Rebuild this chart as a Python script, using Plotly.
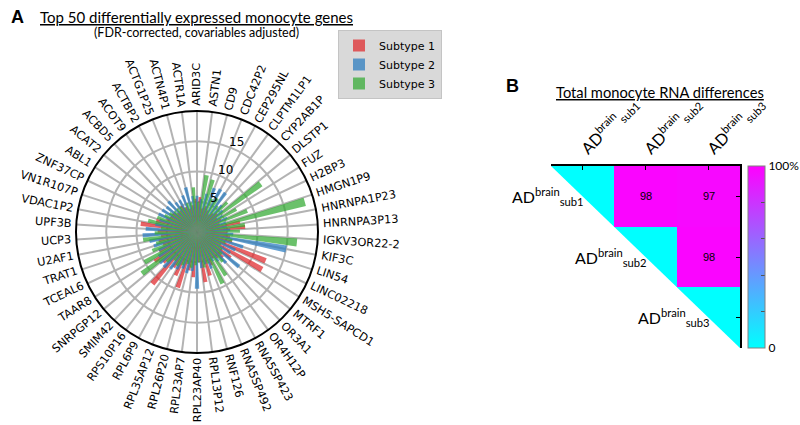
import math
import plotly.graph_objects as go

# ---------------- data ----------------
genes = ["ARID3C", "ASTN1", "CD9", "CDC42P2", "CEP295NL", "CLPTM1LP1", "CYP2AB1P", "DLSTP1",
         "FUZ", "H2BP3", "HMGN1P9", "HNRNPA1P23", "HNRNPA3P13", "IGKV3OR22-2", "KIF3C", "LIN54",
         "LINC02218", "MSH5-SAPCD1", "MTRF1", "OR3A1", "OR4H12P", "RNA5SP423", "RNA5SP492",
         "RNF126", "RPL13P12", "RPL23AP40", "RPL23AP7", "RPL26P20", "RPL35AP12", "RPL6P9",
         "RPS10P16", "SMIM42", "SNRPGP12", "TAAR8", "TCEAL6", "TRAT1", "U2AF1", "UCP3", "UPF3B",
         "VDAC1P2", "VN1R107P", "ZNF37CP", "ABL1", "ACAT2", "ACBD5", "ACOT9", "ACTBP2",
         "ACTG1P25", "ACTN4P1", "ACTR1A"]

subtype1 = [5.5, 5.8, 4.0, 4.5, 4.0, 3.5, 4.0, 4.5, 4.0, 4.5, 4.0, 7.3, 8.0, 5.0, 5.5, 6.0,
            12.3, 12.4, 7.0, 6.0, 5.5, 5.0, 6.0, 7.5, 8.4, 5.0, 7.5, 6.5, 9.7, 8.0, 7.0, 11.3,
            7.5, 8.5, 7.0, 6.0, 6.5, 6.0, 6.5, 9.4, 7.0, 5.5, 5.0, 5.0, 4.5, 4.5, 5.0, 4.5, 4.0, 4.5]
subtype2 = [6.0, 5.5, 6.5, 7.8, 8.1, 8.0, 6.0, 5.5, 5.0, 5.5, 5.0, 5.0, 5.5, 6.0, 15.0, 8.0,
            7.0, 6.5, 9.0, 7.0, 6.0, 5.5, 6.5, 5.5, 6.0, 9.4, 6.5, 7.0, 6.5, 7.0, 7.5, 8.0,
            8.0, 7.5, 7.0, 7.5, 8.0, 9.0, 8.5, 7.0, 6.5, 7.0, 6.8, 6.5, 6.9, 6.0, 6.0, 6.5, 7.6, 6.0]
subtype3 = [5.0, 9.5, 9.0, 6.0, 6.5, 5.5, 7.0, 13.2, 7.5, 9.0, 18.5, 8.0, 7.1, 16.6, 6.0, 5.0,
            4.5, 5.0, 5.5, 6.5, 8.6, 9.5, 5.5, 6.0, 5.0, 5.5, 6.0, 5.5, 6.0, 6.5, 6.0, 7.0,
            11.4, 10.0, 8.0, 7.0, 9.0, 7.0, 6.0, 8.3, 7.0, 6.0, 5.5, 5.0, 5.0, 5.0, 4.5, 5.0, 5.0, 7.4]
subtype_names = ["Subtype 1", "Subtype 2", "Subtype 3"]
subtype_colors = ["#e0282c", "#2a7cc0", "#33aa33"]

radial_ticks = [5, 10, 15]
radial_ticklabels = ["5", "10", "15"]
radial_max = 20

group_labels = ["sub1", "sub2", "sub3"]
rna_diff = [[0, 98, 97],
            [None, 0, 98],
            [None, None, 0]]
colorbar_ticks = [0, 20, 40, 60, 80, 100]
colorbar_ticktext = ["0", "", "", "", "", "100%"]

# ---------------- geometry ----------------
W, H = 800, 425
PCX, PCY, PR = 197, 232, 121          # polar centre / radius in px (from top-left)
polar_dom_x = [(PCX - PR) / W, (PCX + PR) / W]
polar_dom_y = [1 - (PCY + PR) / H, 1 - (PCY - PR) / H]

HX0, HX1, HY0, HY1 = 551, 740, 166, 348  # heatmap box in px
hm_dom_x = [HX0 / W, HX1 / W]
hm_dom_y = [1 - HY1 / H, 1 - HY0 / H]

n = len(genes)
step = 360.0 / n
thetas = [i * step for i in range(n)]
offsets = [-step / 3, 0, step / 3]
bar_w = step * 0.62

fig = go.Figure()

for vals, name, col, off in zip([subtype1, subtype2, subtype3], subtype_names, subtype_colors, offsets):
    fig.add_trace(go.Barpolar(
        r=vals, theta=[t + off for t in thetas], width=[bar_w] * n,
        marker=dict(color=col, line=dict(width=0)), opacity=0.72,
        name=name, hoverinfo="skip"))

# ---------------- gene labels (radially rotated) ----------------
DJ = {'A': .684, 'B': .686, 'C': .698, 'D': .770, 'E': .632, 'F': .575, 'G': .775, 'H': .752,
      'I': .295, 'J': .295, 'K': .656, 'L': .557, 'M': .863, 'N': .748, 'O': .787, 'P': .603,
      'Q': .787, 'R': .695, 'S': .635, 'T': .611, 'U': .732, 'V': .684, 'W': .989, 'X': .685,
      'Y': .611, 'Z': .685, '-': .361}
FS = 11.3

def text_w(s):
    return sum(DJ.get(c, .636) for c in s) * FS

def paper_text(x, y, text, size, family="Lato", xa="center", ya="middle"):
    return dict(x=x / W, y=1 - y / H, xref="paper", yref="paper", text=text, showarrow=False,
                xanchor=xa, yanchor=ya, font=dict(size=size, family=family, color="black"))

annotations = []
for g, t in zip(genes, thetas):
    a = 90 - t
    while a <= -180:
        a += 360
    while a > 180:
        a -= 360
    rl = PR + 5 + text_w(g) / 2
    xpx = PCX + rl * math.cos(math.radians(a))
    ypx = (H - PCY) + rl * math.sin(math.radians(a))
    if -90 < a <= 90:
        ta = -a
    elif a > 90:
        ta = 180 - a
    else:
        ta = -(a + 180)
    annotations.append(dict(x=xpx / W, y=ypx / H, xref="paper", yref="paper", text=g,
                            showarrow=False, textangle=ta, xanchor="center", yanchor="middle",
                            font=dict(size=FS, family="DejaVu Sans", color="black")))

# radial tick labels (matplotlib style: horizontal, at 22.5 deg from the top)
RL_ANGLE = 90 - 22.5
for rv, rt in zip(radial_ticks, radial_ticklabels):
    rp = rv / radial_max * PR
    xpx = PCX + rp * math.cos(math.radians(RL_ANGLE)) + 5
    ypx = (H - PCY) + rp * math.sin(math.radians(RL_ANGLE)) + 6
    annotations.append(dict(x=xpx / W, y=ypx / H, xref="paper", yref="paper", text=rt,
                            showarrow=False, xanchor="center", yanchor="middle",
                            font=dict(size=12, family="DejaVu Sans", color="black")))

# titles and panel letters
annotations += [
    paper_text(17, 17, "<b>A</b>", 18, "Liberation Sans"),
    paper_text(196, 17, "<u>Top 50 differentially expressed monocyte genes</u>", 15),
    paper_text(196, 33, "(FDR-corrected, covariables adjusted)", 12.5),
    paper_text(512, 86, "<b>B</b>", 18, "Liberation Sans"),
    paper_text(660, 92, "<u>Total monocyte RNA differences</u>", 14.7),
]

# ---------------- panel B heatmap ----------------
ng = len(group_labels)
ad_labels = ["AD<sup>brain</sup><sub>%s</sub>" % g for g in group_labels]
cell_text = [["" if (v is None or v == 0) else str(v) for v in row] for row in rna_diff]

fig.add_trace(go.Heatmap(
    z=rna_diff, x=list(range(ng)), y=list(range(ng)),
    colorscale=[[0, "rgb(0,255,255)"], [1, "rgb(255,0,255)"]], zmin=0, zmax=100,
    text=cell_text, texttemplate="%{text}", textfont=dict(size=11, color="black", family="Liberation Sans"),
    hoverinfo="skip", showscale=True, showlegend=False,
    colorbar=dict(x=748 / W, xanchor="left", y=(hm_dom_y[0] + hm_dom_y[1]) / 2, yanchor="middle",
                  len=(HY1 - HY0) / H, lenmode="fraction", thickness=17, xpad=0, ypad=0,
                  outlinecolor="#808080", outlinewidth=1, tickmode="array",
                  tickvals=colorbar_ticks, ticktext=colorbar_ticktext, ticks="inside", ticklen=4,
                  tickcolor="#555555", tickfont=dict(size=12, family="Lato", color="black"))))

# white lower triangle (hides the part below the diagonal)
lo, hi = -0.5, ng - 0.5
fig.add_shape(type="path", xref="x", yref="y",
              path=f"M {lo},{lo} L {hi},{hi} L {lo},{hi} Z",
              fillcolor="white", line=dict(width=0), layer="above")

# row labels sit left of each diagonal cell, just under the diagonal
for i, lab in enumerate(ad_labels):
    fx = hm_dom_x[0] + (i - 0.55 - lo) / (hi - lo) * (hm_dom_x[1] - hm_dom_x[0])
    fy = hm_dom_y[1] - (i - lo) / (hi - lo) * (hm_dom_y[1] - hm_dom_y[0])
    annotations.append(dict(x=fx, y=fy, xref="paper", yref="paper", text=lab, showarrow=False,
                            xanchor="center", yanchor="middle",
                            font=dict(size=16, family="Lato", color="black")))

fig.update_layout(
    width=W, height=H, margin=dict(l=0, r=0, t=0, b=0, autoexpand=False),
    paper_bgcolor="white", plot_bgcolor="white",
    font=dict(family="DejaVu Sans", color="black"),
    annotations=annotations,
    showlegend=True,
    legend=dict(x=338 / W, y=1 - 30 / H, xanchor="left", yanchor="top",
                bgcolor="#d9d9d9", bordercolor="#c4c4c4", borderwidth=1,
                font=dict(size=11, family="DejaVu Sans", color="black"),
                itemwidth=30, tracegroupgap=0),
    polar=dict(
        domain=dict(x=polar_dom_x, y=polar_dom_y),
        bgcolor="white",
        radialaxis=dict(range=[0, radial_max], tickmode="array", tickvals=radial_ticks,
                        showticklabels=False, showline=False, ticks="",
                        gridcolor="#b3b3b3", gridwidth=2, layer="above traces"),
        angularaxis=dict(rotation=90, direction="clockwise", tickmode="array", tickvals=thetas,
                         showticklabels=False, ticks="", gridcolor="#b3b3b3", gridwidth=2.2,
                         linecolor="black", linewidth=2, showline=True, layer="above traces"),
    ),
    xaxis=dict(domain=hm_dom_x, range=[lo, hi], side="top", tickmode="array",
               tickvals=list(range(ng)), ticktext=ad_labels, tickangle=-45, ticks="inside",
               ticklen=4, tickcolor="black", showline=True, linecolor="black", linewidth=2,
               showgrid=False, zeroline=False, fixedrange=True,
               tickfont=dict(size=16, family="Lato", color="black")),
    yaxis=dict(domain=hm_dom_y, range=[hi, lo], side="right", tickmode="array",
               tickvals=list(range(ng)), showticklabels=False, ticks="inside", ticklen=4,
               tickcolor="black", showline=True, linecolor="black", linewidth=2,
               showgrid=False, zeroline=False, fixedrange=True),
)

fig.write_html("out.html", config={"displayModeBar": False},
               post_script="document.body.style.margin='0px';")
